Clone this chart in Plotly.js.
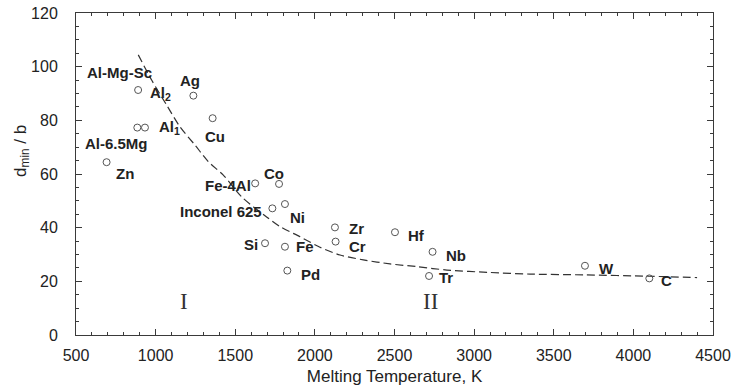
<!DOCTYPE html>
<html>
<head>
<meta charset="utf-8">
<script src="https://cdn.plot.ly/plotly-3.0.1.min.js"></script>
<style>
  html, body { margin: 0; padding: 0; background: #fff; }
  #chart { width: 733px; height: 389px; }
</style>
</head>
<body>
<div id="chart"></div>
<script>
// Measured materials: melting temperature (K) vs. minimum grain size d_min / b
const pointTemp = [890, 1237, 1358, 885, 933, 692, 1625, 1775, 1812, 1733, 2126, 2130, 1687, 1812, 1827, 2503, 2739, 2717, 3696, 4100];
const pointDmin = [91.3, 89.2, 80.8, 77.3, 77.3, 64.4, 56.5, 56.3, 48.8, 47.2, 40.1, 34.8, 34.2, 32.9, 24.0, 38.3, 31.0, 22.0, 25.8, 21.1];

// Dashed trend curve
const trendTemp = [891, 975, 1069, 1153, 1247, 1331, 1425, 1540, 1697, 1781, 1907, 2032, 2158, 2304, 2472, 2639, 2829, 3100, 3351, 3700, 4100, 4400];
const trendDmin = [104.4, 95.0, 85.7, 77.6, 70.8, 64.6, 59.6, 51.5, 44.0, 40.4, 36.6, 32.7, 29.8, 28.0, 26.5, 25.5, 24.2, 23.3, 22.7, 22.4, 21.9, 21.4];

// Material names and where their text sits
const labelText = ['Al-Mg-Sc', 'Al<sub>2</sub>', 'Ag', 'Al<sub>1</sub>', 'Cu', 'Al-6.5Mg', 'Zn', 'Fe-4Al', 'Co',
                   'Inconel 625', 'Ni', 'Zr', 'Cr', 'Si', 'Fe', 'Pd', 'Hf', 'Nb', 'Tr', 'W', 'C'];
const labelTemp = [557, 954, 1142, 1006, 1295, 546, 740, 1300, 1670, 1142, 1833, 2200, 2200, 1545, 1869, 1902, 2572, 2813, 2765, 3774, 4161];
const labelDmin = [97.7, 90.0, 94.8, 77.4, 73.9, 71.4, 60.3, 55.9, 60.3, 46.0, 43.7, 39.8, 32.9, 33.8, 32.9, 22.7, 37.0, 29.8, 21.5, 24.9, 20.2];

// Regime markers
const regimeText = ['I', 'II'];
const regimeTemp = [1180, 2723];
const regimeDmin = [12.4, 12.4];

const ink = '#3a3a3a';

const traces = [
  {
    x: trendTemp, y: trendDmin, type: 'scatter', mode: 'lines',
    line: { color: '#333', width: 1.2, dash: '8px,4px', shape: 'spline', smoothing: 0.8 },
    hoverinfo: 'skip', showlegend: false
  },
  {
    x: pointTemp, y: pointDmin, type: 'scatter', mode: 'markers',
    marker: { symbol: 'circle-open', size: 7, color: '#555', line: { width: 1, color: '#555' } },
    showlegend: false
  }
];

const annotations = [];
labelText.forEach((t, i) => {
  annotations.push({
    x: labelTemp[i], y: labelDmin[i], xref: 'x', yref: 'y',
    text: '<b>' + t + '</b>', showarrow: false, xanchor: 'left', yanchor: 'middle',
    font: { family: 'Liberation Sans, Arial, sans-serif', size: 15, color: '#222' }
  });
});
regimeText.forEach((t, i) => {
  annotations.push({
    x: regimeTemp[i], y: regimeDmin[i], xref: 'x', yref: 'y',
    text: t, showarrow: false, xanchor: 'center', yanchor: 'middle',
    font: { family: 'Liberation Serif, Times New Roman, serif', size: 23, color: '#333' }
  });
});
// Rotated y-axis title
annotations.push({
  x: -0.085, y: 0.571, xref: 'paper', yref: 'paper',
  text: 'd<sub>min</sub> / b', textangle: -90, showarrow: false,
  xanchor: 'center', yanchor: 'middle',
  font: { family: 'Liberation Sans, Arial, sans-serif', size: 17, color: '#222' }
});

const axisCommon = {
  showgrid: false, zeroline: false, showline: true, linecolor: ink, linewidth: 1,
  mirror: 'allticks', ticks: 'inside', tickcolor: ink, tickwidth: 1, ticklen: 6,
  tickfont: { family: 'Liberation Sans, Arial, sans-serif', size: 16, color: '#222' }
};

const layout = {
  width: 733, height: 389,
  margin: { l: 76, r: 20, t: 13, b: 54 },
  paper_bgcolor: '#fff', plot_bgcolor: '#fff',
  xaxis: Object.assign({}, axisCommon, {
    range: [500, 4500], tick0: 500, dtick: 500,
    minor: { dtick: 100, ticks: 'inside', ticklen: 3, tickcolor: ink, tickwidth: 1 },
    ticklabelstandoff: 6,
    title: { text: 'Melting Temperature, K', standoff: 6,
             font: { family: 'Liberation Sans, Arial, sans-serif', size: 17, color: '#222' } }
  }),
  yaxis: Object.assign({}, axisCommon, {
    range: [0, 120], tick0: 0, dtick: 20,
    minor: { dtick: 5, ticks: 'inside', ticklen: 3, tickcolor: ink, tickwidth: 1 },
    ticklabelstandoff: 14
  }),
  annotations: annotations
};

Plotly.newPlot('chart', traces, layout, { displayModeBar: false, staticPlot: true });
</script>
</body>
</html>
